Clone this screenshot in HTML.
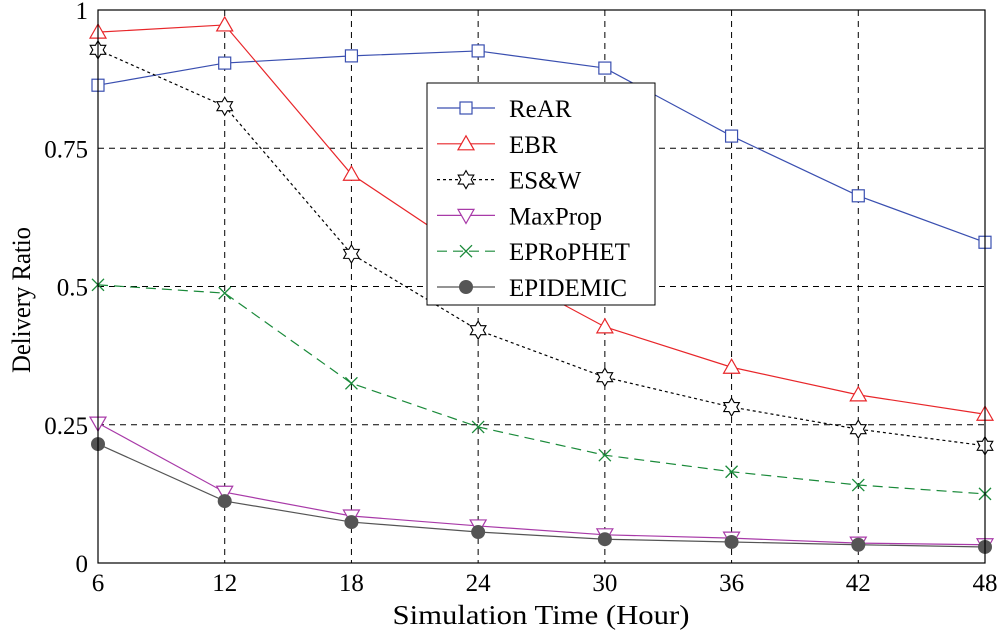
<!DOCTYPE html>
<html><head><meta charset="utf-8"><style>
body{margin:0;background:#fff}
text{font-family:"Liberation Serif",serif;fill:#000}
</style></head><body>
<svg width="1000" height="636" viewBox="0 0 1000 636">
<g id="grid"></g>
<g id="series"></g>
<rect x="98" y="10" width="887" height="553" fill="none" stroke="#000" stroke-width="1.2"/>
<g id="axes"></g>
<text x="541" y="624" font-size="27" text-anchor="middle" textLength="297" lengthAdjust="spacingAndGlyphs">Simulation Time (Hour)</text>
<text transform="translate(30,300) rotate(-90)" font-size="26" text-anchor="middle" textLength="146" lengthAdjust="spacingAndGlyphs">Delivery Ratio</text>
<g id="legend"></g>
</svg>
<script>
const categories=[6,12,18,24,30,36,42,48];
const yTicks=[0,0.25,0.5,0.75,1];
const yTickLabels=["0","0.25","0.5","0.75","1"];
const seriesNames=["ReAR","EBR","ES&W","MaxProp","EPRoPHET","EPIDEMIC"];
const rear=[0.864,0.904,0.917,0.926,0.895,0.772,0.664,0.580];
const ebr=[0.960,0.973,0.703,0.55,0.427,0.354,0.304,0.269];
const esw=[0.928,0.826,0.559,0.421,0.336,0.282,0.242,0.212];
const maxprop=[0.253,0.128,0.085,0.067,0.051,0.045,0.036,0.033];
const eprophet=[0.503,0.488,0.325,0.246,0.195,0.165,0.141,0.125];
const epidemic=[0.215,0.112,0.074,0.056,0.043,0.038,0.033,0.029];

const NS="http://www.w3.org/2000/svg";
const X0=98,X1=985,Y0=563,Y1=10;
const xs=v=>X0+(v-6)/(48-6)*(X1-X0);
const ys=v=>Y0-v*(Y0-Y1);
function mk(tag,attrs,parent){const e=document.createElementNS(NS,tag);for(const k in attrs)e.setAttribute(k,attrs[k]);parent.appendChild(e);return e;}
const grid=document.getElementById('grid'),axes=document.getElementById('axes');
categories.forEach(c=>{
  const x=xs(c);
  if(c!==6&&c!==48){const l=mk('line',{x1:x,x2:x,y1:Y1,y2:Y0,stroke:'#000','stroke-dasharray':'6,5','stroke-width':1},grid);
  }
  const t=mk('text',{x:x,y:591,'font-size':25,'text-anchor':'middle'},axes);t.textContent=c;
  
});
yTicks.forEach((v,i)=>{
  const y=ys(v);
  if(v>0&&v<1){const l=mk('line',{x1:X0,x2:X1,y1:y,y2:y,stroke:'#000','stroke-dasharray':'6,5','stroke-width':1},grid);
  }
  const t=mk('text',{x:88,y:y+9,'font-size':25,'text-anchor':'end'},axes);t.textContent=yTickLabels[i];
  
});
const styles=[
 {d:rear,c:'#3a4fb0',dash:'',m:'square'},
 {d:ebr,c:'#e8262a',dash:'',m:'tri'},
 {d:esw,c:'#000',dash:'3,3',m:'star'},
 {d:maxprop,c:'#a83aa8',dash:'',m:'tridown'},
 {d:eprophet,c:'#1a8a3a',dash:'10,6',m:'x'},
 {d:epidemic,c:'#555',dash:'',m:'dot'}];
function marker(g,type,x,y,c){
  let e;
  if(type==='square')e=mk('rect',{x:x-6,y:y-6,width:12,height:12,fill:'#fff',stroke:c,'stroke-width':1.2},g);
  else if(type==='tri')e=mk('polygon',{points:`${x},${y-8} ${x-8},${y+6} ${x+8},${y+6}`,fill:'#fff',stroke:c,'stroke-width':1.2},g);
  else if(type==='tridown')e=mk('polygon',{points:`${x},${y+8} ${x-8},${y-6} ${x+8},${y-6}`,fill:'#fff',stroke:c,'stroke-width':1.2},g);
  else if(type==='star')e=mk('polygon',{points:`${x},${y-9} ${x+2.6},${y-4.5} ${x+7.8},${y-4.5} ${x+5.2},${y} ${x+7.8},${y+4.5} ${x+2.6},${y+4.5} ${x},${y+9} ${x-2.6},${y+4.5} ${x-7.8},${y+4.5} ${x-5.2},${y} ${x-7.8},${y-4.5} ${x-2.6},${y-4.5}`,fill:'#fff',stroke:c,'stroke-width':1.1},g);
  else if(type==='x')e=mk('path',{d:`M${x-6},${y-6}L${x+6},${y+6}M${x-6},${y+6}L${x+6},${y-6}`,stroke:c,'stroke-width':1.3,fill:'none'},g);
  else e=mk('circle',{cx:x,cy:y,r:7,fill:c},g);
  
}
const sg=document.getElementById('series');
styles.forEach((s,i)=>{
  const g=mk('g',{},sg);
  
  
  const p=mk('polyline',{points:s.d.map((v,j)=>xs(categories[j])+','+ys(v)).join(' '),fill:'none',stroke:s.c,'stroke-width':1.2,'stroke-dasharray':s.dash},g);
  
  s.d.forEach((v,j)=>marker(g,s.m,xs(categories[j]),ys(v),s.c));
});
const lg=document.getElementById('legend');
const box=mk('rect',{x:427,y:83,width:228,height:222,fill:'#fff',stroke:'#000','stroke-width':1},lg);

styles.forEach((s,i)=>{
  const y=108+i*35.8;
  const g=mk('g',{},lg);
  
  mk('line',{x1:437,x2:495,y1:y,y2:y,stroke:s.c,'stroke-width':1.2,'stroke-dasharray':s.dash},g);
  marker(g,s.m,466,y,s.c);
  const t=mk('text',{x:509,y:y+9,'font-size':25},g);t.textContent=seriesNames[i];
});
</script>
</body></html>
